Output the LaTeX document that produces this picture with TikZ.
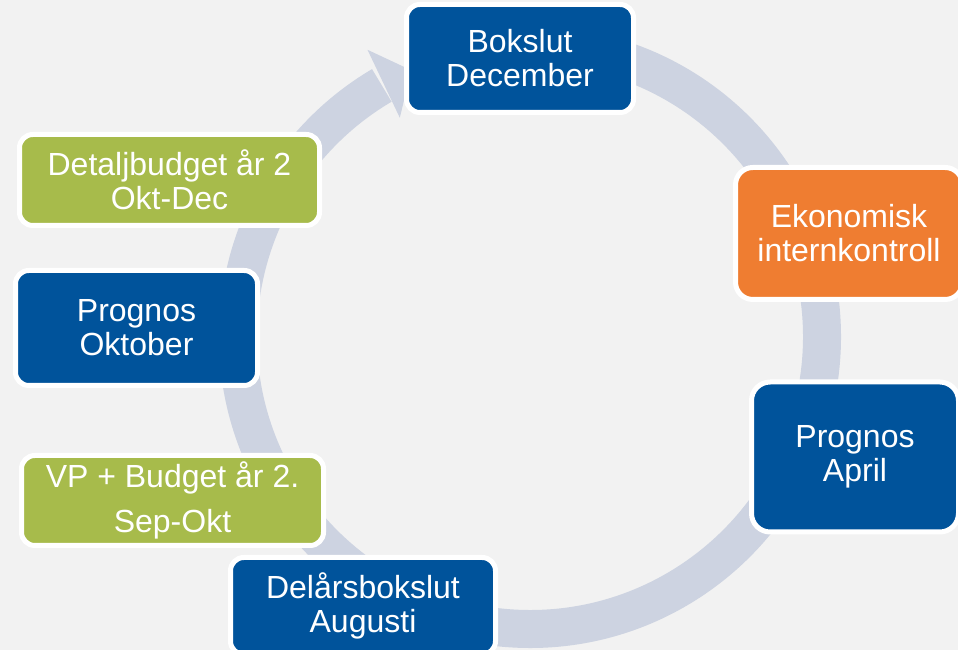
\documentclass[tikz,border=0pt]{standalone}
\usepackage{fontspec}
\setmainfont{Liberation Sans}
\definecolor{bg}{HTML}{F2F2F2}
\definecolor{ringcol}{HTML}{CDD3E1}
\definecolor{boxblue}{HTML}{00539B}
\definecolor{boxgreen}{HTML}{A7BB4B}
\definecolor{boxorange}{HTML}{EF7D31}
\tikzset{
  stage/.style={draw=white, line width=3.75pt, rounded corners=10pt, text=white,
    align=center, font=\fontsize{24}{25.5}\selectfont, inner sep=0pt},
}
\begin{document}
\begin{tikzpicture}[x=0.75pt,y=0.75pt]
\useasboundingbox (0,0) rectangle (958,650);
\clip (0,0) rectangle (958,650);
\fill[bg] (0,0) rectangle (958,650);
\coordinate (c) at (530,313);
\draw[ringcol, line width=28.5pt] ([shift={(85:292)}]c) arc[start angle=85, end angle=-239.5, radius=292];
\fill[ringcol] ([shift={(119.5:330)}]c) -- ([shift={(114:292)}]c) -- ([shift={(120.7:255)}]c) -- cycle;
\node[stage, fill=boxblue, minimum width=170.25pt, minimum height=81pt] (bokslut) at (520,591.5) {Bokslut\\December};
\node[stage, fill=boxorange, rounded corners=13pt, minimum width=170.25pt, minimum height=99pt] (ekon) at (849,416.5) {Ekonomisk\\internkontroll};
\node[stage, fill=boxblue, rounded corners=14pt, minimum width=155.25pt, minimum height=112.5pt] (april) at (855,193) {Prognos\\April};
\node[stage, fill=boxblue, minimum width=198.75pt, minimum height=72.75pt] (delars) at (363,44) {Delårsbokslut\\Augusti};
\node[stage, fill=boxgreen, minimum width=226.5pt, minimum height=67.5pt, font=\fontsize{24}{33.75}\selectfont] (vp) at (172.5,149.5) {VP + Budget år 2.\\Sep-Okt};
\node[stage, fill=boxgreen, minimum width=225pt, minimum height=68.25pt] (detalj) at (169.5,470) {Detaljbudget år 2\\Okt-Dec};
\node[stage, fill=boxblue, minimum width=181.5pt, minimum height=86.25pt] (oktober) at (136.5,322) {Prognos\\Oktober};
\end{tikzpicture}
\end{document}
